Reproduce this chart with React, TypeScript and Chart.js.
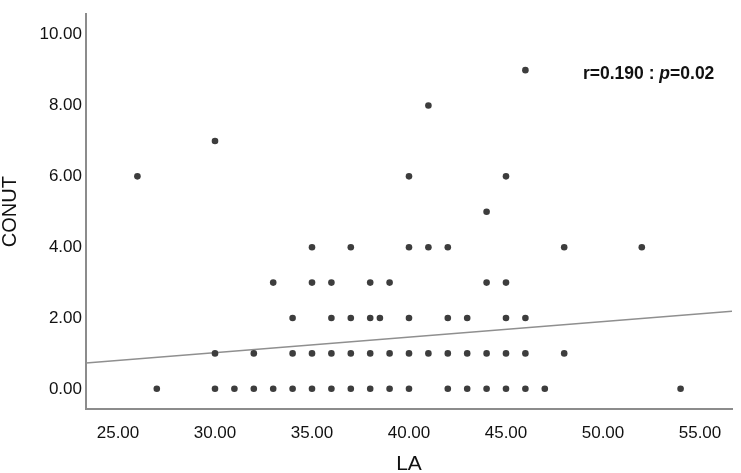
import { useEffect, useRef } from 'react';
import { Chart, registerables } from 'chart.js';

Chart.register(...registerables);

// LA values grouped by CONUT score (one array per level)
const conutLevels = [0, 1, 2, 3, 4, 5, 6, 7, 8, 9];
const laByConut: number[][] = [
  [27, 30, 31, 32, 33, 34, 35, 36, 37, 38, 39, 40, 42, 43, 44, 45, 46, 47, 54],
  [30, 32, 34, 35, 36, 37, 38, 39, 40, 41, 42, 43, 44, 45, 46, 48],
  [34, 36, 37, 38, 38.5, 40, 42, 43, 45, 46],
  [33, 35, 36, 38, 39, 44, 45],
  [35, 37, 40, 41, 42, 48, 52],
  [44],
  [26, 40, 45],
  [30],
  [41],
  [46],
];

// fit line end points
const fitX = [23.35, 56.65];
const fitY = [0.73, 2.19];

const xTicks = [25, 30, 35, 40, 45, 50, 55];
const yTicks = [0, 2, 4, 6, 8, 10];

const annotation = { pre: 'r=0.190 : ', italic: 'p', post: '=0.02' };

const FONT = "'Liberation Sans', Arial, sans-serif";

const annotationPlugin = {
  id: 'corrText',
  afterDraw(chart: Chart) {
    const ctx = chart.ctx;
    ctx.save();
    ctx.fillStyle = '#111';
    ctx.textBaseline = 'middle';
    ctx.textAlign = 'left';
    let x = 583;
    const y = 74;
    ctx.font = `bold 17.5px ${FONT}`;
    ctx.fillText(annotation.pre, x, y);
    x += ctx.measureText(annotation.pre).width;
    ctx.font = `italic bold 17.5px ${FONT}`;
    ctx.fillText(annotation.italic, x, y);
    x += ctx.measureText(annotation.italic).width;
    ctx.font = `bold 17.5px ${FONT}`;
    ctx.fillText(annotation.post, x, y);
    ctx.restore();
  },
};

export default function App() {
  const canvasRef = useRef<HTMLCanvasElement | null>(null);

  useEffect(() => {
    document.body.style.margin = '0';
    if (!canvasRef.current) return;
    const ctx = canvasRef.current.getContext('2d');
    if (!ctx) return;

    const points = laByConut.flatMap((row, i) => row.map((la) => ({ x: la, y: conutLevels[i] })));
    const fitLine = fitX.map((x, i) => ({ x, y: fitY[i] }));

    const chart = new Chart(ctx, {
      type: 'scatter',
      data: {
        datasets: [
          {
            label: 'CONUT',
            data: points,
            pointRadius: 3.3,
            pointBackgroundColor: '#3d3d3d',
            pointBorderWidth: 0,
          },
          {
            type: 'line',
            label: 'Fit',
            data: fitLine,
            borderColor: '#8f8f8f',
            borderWidth: 1.5,
            pointRadius: 0,
            fill: false,
          },
        ],
      },
      options: {
        animation: false,
        responsive: true,
        maintainAspectRatio: false,
        layout: { padding: { top: 5, right: 9, left: 0, bottom: 0 } },
        plugins: { legend: { display: false }, tooltip: { enabled: false } },
        scales: {
          x: {
            type: 'linear',
            min: 23.35,
            max: 56.65,
            grid: { display: false, drawTicks: false },
            border: { display: true, color: '#8c8c8c', width: 2 },
            afterBuildTicks: (s: any) => {
              s.ticks = xTicks.map((v) => ({ value: v }));
            },
            afterFit: (s: any) => {
              s.height = 64;
            },
            ticks: {
              padding: 14,
              color: '#111',
              font: { family: FONT, size: 17 },
              callback: (v: any) => Number(v).toFixed(2),
            },
            title: {
              display: true,
              text: 'LA',
              color: '#111',
              font: { family: FONT, size: 21, lineHeight: 0.8 },
              padding: 0,
            },
          },
          y: {
            type: 'linear',
            min: -0.57,
            max: 10.58,
            grid: { display: false, drawTicks: false },
            border: { display: true, color: '#8c8c8c', width: 2 },
            afterBuildTicks: (s: any) => {
              s.ticks = yTicks.map((v) => ({ value: v }));
            },
            afterFit: (s: any) => {
              s.width = 86;
            },
            ticks: {
              padding: 4,
              color: '#111',
              font: { family: FONT, size: 17 },
              callback: (v: any) => Number(v).toFixed(2),
            },
            title: {
              display: true,
              text: 'CONUT',
              color: '#111',
              font: { family: FONT, size: 20, lineHeight: 1 },
              padding: 0,
            },
          },
        },
      },
      plugins: [annotationPlugin],
    });
    return () => chart.destroy();
  }, []);

  return (
    <div style={{ position: 'fixed', left: 0, top: 0, width: 741, height: 473, background: '#fff' }}>
      <canvas ref={canvasRef} />
    </div>
  );
}
